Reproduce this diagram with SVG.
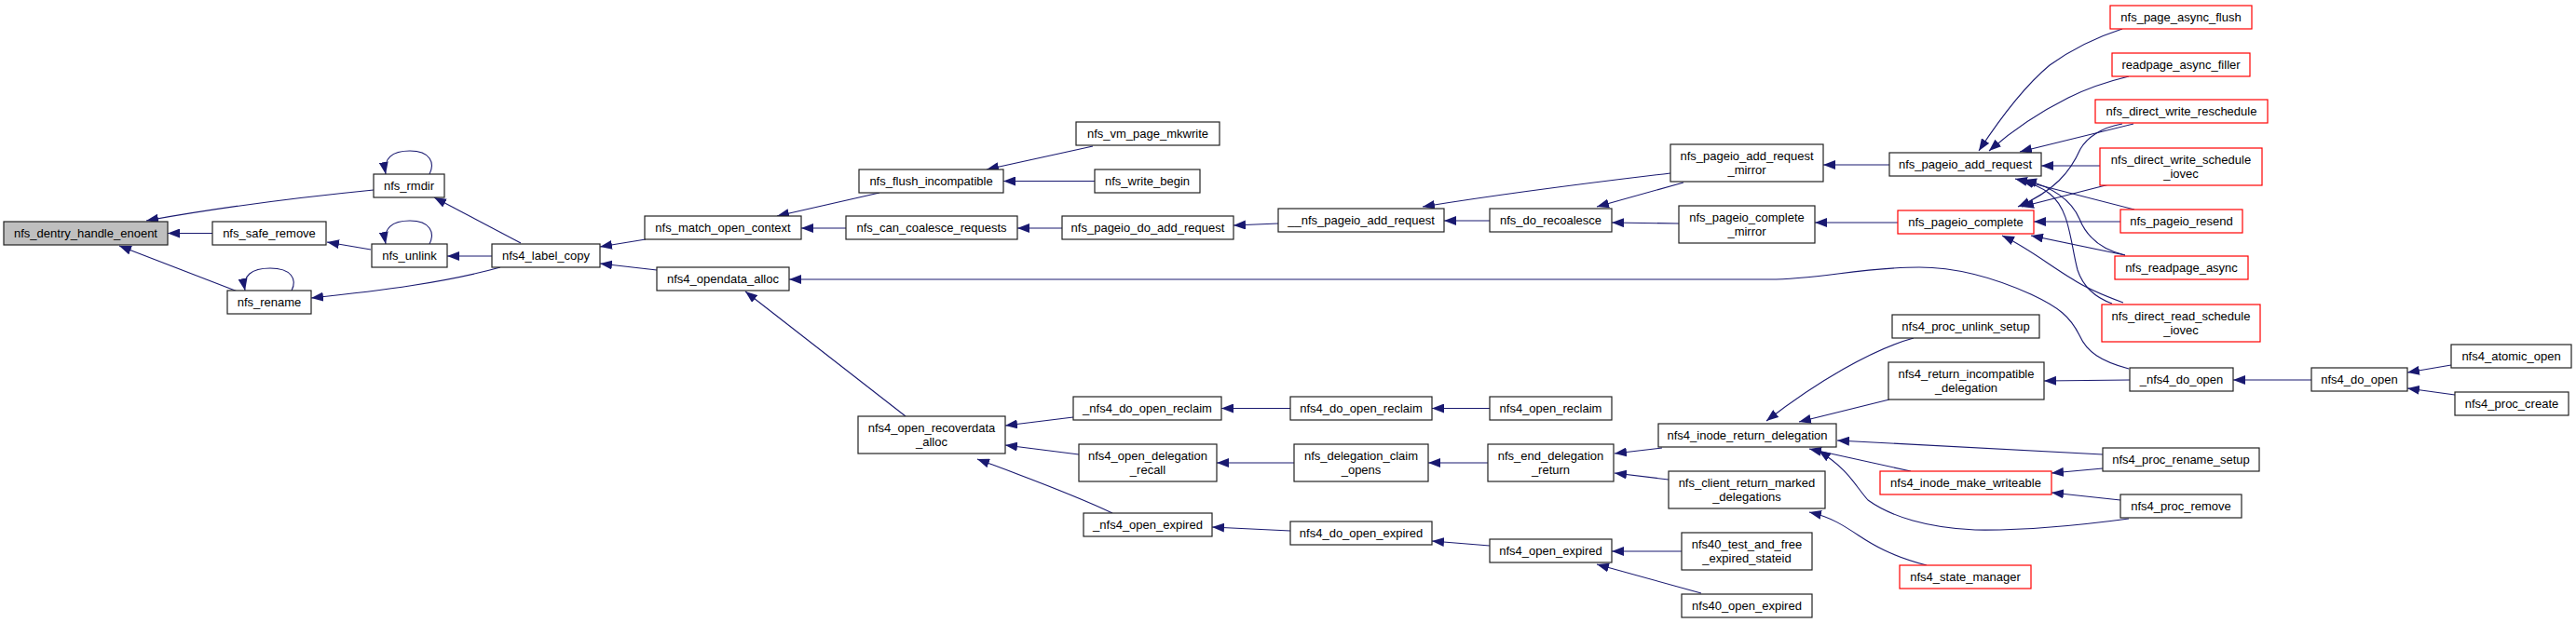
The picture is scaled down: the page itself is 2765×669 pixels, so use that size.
<svg xmlns="http://www.w3.org/2000/svg" width="2765" height="669" viewBox="0 0 2765 669">
<defs>
<marker id="arr" markerUnits="userSpaceOnUse" markerWidth="13" markerHeight="10" viewBox="0 0 13 10" refX="13" refY="5" orient="auto">
<path d="M0,0 L13,5 L0,10 z" fill="#191970"/>
</marker>
</defs>
<style>
.node rect{fill:#ffffff;stroke:#222222;stroke-width:1.2}
.node.red rect{stroke:#ff0000}
.node.root rect{fill:#bfbfbf}
text{font-family:"Liberation Sans",Arial,Helvetica,sans-serif;font-size:13px;text-anchor:middle;fill:#000000}
.edges path{fill:none;stroke:#191970;stroke-width:1.1;marker-end:url(#arr)}
</style>
<rect x="0" y="0" width="2765" height="669" fill="#ffffff"/>
<g class="edges" id="edges">
<path d="M401,204 C330,211 240,222 157,237"/>
<path d="M228,250.5 L180,250.5"/>
<path d="M255,313 L128,264"/>
<path d="M461,187 C467,175 462,162 440,162 C421,162 411,170 414,187"/>
<path d="M398,268 L351,260"/>
<path d="M461,262 C467,250 462,237 440,237 C421,237 411,245 414,262"/>
<path d="M528,275 L480,275"/>
<path d="M559,261 L466,212"/>
<path d="M537,287 C480,303 410,312 334,320"/>
<path d="M313,312 C319,300 313,288 290,288 C270,288 260,296 263,312"/>
<path d="M693,257 L644,265"/>
<path d="M705,290 L644,283"/>
<path d="M944,207 L834,232"/>
<path d="M908,245 L860,245"/>
<path d="M1173,157 L1059,182"/>
<path d="M1175,194.5 L1077,194.5"/>
<path d="M1140,245 L1092,245"/>
<path d="M1372,240 L1324,242"/>
<path d="M2285,396 C2255,388 2240,378 2232,360 C2222,340 2210,330 2180,316 C2140,298 2100,287 2060,287 C2000,287 1950,300 1900,300 L847,300"/>
<path d="M2481,408 L2397,408"/>
<path d="M2631,392 L2584,400"/>
<path d="M2635,424 L2584,417"/>
<path d="M972,447 L800,313"/>
<path d="M1599,237 L1550,237"/>
<path d="M1793,186 C1700,197 1620,207 1527,222"/>
<path d="M1807,196 L1714,222"/>
<path d="M1802,240 L1730,239"/>
<path d="M2028,177 L1957,177"/>
<path d="M2037,239 L1948,239"/>
<path d="M2278,31 C2250,40 2225,52 2200,70 C2170,95 2145,130 2124,162"/>
<path d="M2285,82 C2260,88 2240,95 2220,105 C2190,120 2160,140 2135,162"/>
<path d="M2290,133 L2168,163"/>
<path d="M2254,178 L2191,178"/>
<path d="M2291,225 L2170,194"/>
<path d="M2281,274 C2255,268 2240,255 2232,235 C2222,212 2200,200 2173,193"/>
<path d="M2267,326 C2245,318 2235,305 2230,290 C2222,260 2222,225 2200,208 C2190,200 2180,196 2163,192"/>
<path d="M2278,133 C2255,137 2240,148 2233,160 C2222,185 2205,205 2166,222"/>
<path d="M2264,198 L2170,222"/>
<path d="M2276,238 L2183,238"/>
<path d="M2281,274 L2180,253"/>
<path d="M2279,325 C2260,318 2240,310 2225,300 C2200,285 2175,265 2149,253"/>
<path d="M1152,448 L1079,457"/>
<path d="M1158,488 L1079,478"/>
<path d="M1194,551 C1150,530 1100,512 1049,493"/>
<path d="M1385,438.5 L1311,438.5"/>
<path d="M1389,497 L1306,497"/>
<path d="M1385,570 L1301,566"/>
<path d="M1599,438.5 L1537,438.5"/>
<path d="M1597,497 L1533,497"/>
<path d="M1599,586 L1537,581"/>
<path d="M1784,481 L1733,487"/>
<path d="M1791,515 L1733,508"/>
<path d="M1805,592 L1730,592"/>
<path d="M1826,637 L1714,606"/>
<path d="M2054,363 C2010,375 1950,410 1896,452"/>
<path d="M2028,429 L1931,453"/>
<path d="M2257,488 L1972,473"/>
<path d="M2051,506 L1942,482"/>
<path d="M2285,557 C2240,563 2180,570 2120,569 C2070,567 2030,555 2005,537 C1990,520 1985,505 1952,484"/>
<path d="M2068,607 C2030,597 2010,585 1995,575 C1980,565 1965,555 1942,550"/>
<path d="M2257,503 L2202,508"/>
<path d="M2276,537 L2202,529"/>
<path d="M2286,408 L2194,409"/>
</g>
<g class="node root" id="n1"><rect x="4" y="238" width="176" height="25"/><text x="92" y="255">nfs_dentry_handle_enoent</text></g>
<g class="node" id="n2"><rect x="401" y="187" width="76" height="25"/><text x="439" y="204">nfs_rmdir</text></g>
<g class="node" id="n3"><rect x="228" y="238" width="122" height="25"/><text x="289" y="255">nfs_safe_remove</text></g>
<g class="node" id="n4"><rect x="399" y="262" width="81" height="25"/><text x="439.5" y="279">nfs_unlink</text></g>
<g class="node" id="n5"><rect x="244" y="312" width="90" height="25"/><text x="289" y="329">nfs_rename</text></g>
<g class="node" id="n6"><rect x="528" y="262" width="116" height="25"/><text x="586" y="279">nfs4_label_copy</text></g>
<g class="node" id="n7"><rect x="692" y="232" width="168" height="25"/><text x="776" y="249">nfs_match_open_context</text></g>
<g class="node" id="n8"><rect x="705" y="287" width="142" height="25"/><text x="776" y="304">nfs4_opendata_alloc</text></g>
<g class="node" id="n9"><rect x="922" y="182" width="155" height="25"/><text x="999.5" y="199">nfs_flush_incompatible</text></g>
<g class="node" id="n10"><rect x="1155" y="131" width="154" height="25"/><text x="1232" y="148">nfs_vm_page_mkwrite</text></g>
<g class="node" id="n11"><rect x="1175" y="182" width="113" height="25"/><text x="1231.5" y="199">nfs_write_begin</text></g>
<g class="node" id="n12"><rect x="908" y="232" width="184" height="25"/><text x="1000" y="249">nfs_can_coalesce_requests</text></g>
<g class="node" id="n13"><rect x="1140" y="232" width="184" height="25"/><text x="1232" y="249">nfs_pageio_do_add_request</text></g>
<g class="node" id="n14"><rect x="1372" y="224" width="178" height="25"/><text x="1461" y="241">__nfs_pageio_add_request</text></g>
<g class="node" id="n15"><rect x="1599" y="224" width="131" height="25"/><text x="1664.5" y="241">nfs_do_recoalesce</text></g>
<g class="node" id="n16"><rect x="1793" y="155" width="164" height="40"/><text x="1875" y="172">nfs_pageio_add_request</text><text x="1875" y="187">_mirror</text></g>
<g class="node" id="n17"><rect x="1802" y="221" width="146" height="40"/><text x="1875" y="238">nfs_pageio_complete</text><text x="1875" y="253">_mirror</text></g>
<g class="node" id="n18"><rect x="2028" y="164" width="163" height="25"/><text x="2109.5" y="181">nfs_pageio_add_request</text></g>
<g class="node red" id="n19"><rect x="2037" y="226" width="146" height="25"/><text x="2110" y="243">nfs_pageio_complete</text></g>
<g class="node red" id="n20"><rect x="2265" y="6" width="152" height="25"/><text x="2341" y="23">nfs_page_async_flush</text></g>
<g class="node red" id="n21"><rect x="2267" y="57" width="148" height="25"/><text x="2341" y="74">readpage_async_filler</text></g>
<g class="node red" id="n22"><rect x="2249" y="107" width="185" height="25"/><text x="2341.5" y="124">nfs_direct_write_reschedule</text></g>
<g class="node red" id="n23"><rect x="2254" y="159" width="174" height="40"/><text x="2341" y="176">nfs_direct_write_schedule</text><text x="2341" y="191">_iovec</text></g>
<g class="node red" id="n24"><rect x="2276" y="225" width="131" height="25"/><text x="2341.5" y="242">nfs_pageio_resend</text></g>
<g class="node red" id="n25"><rect x="2270" y="275" width="143" height="25"/><text x="2341.5" y="292">nfs_readpage_async</text></g>
<g class="node red" id="n26"><rect x="2256" y="327" width="170" height="40"/><text x="2341" y="344">nfs_direct_read_schedule</text><text x="2341" y="359">_iovec</text></g>
<g class="node" id="n27"><rect x="2286" y="395" width="111" height="25"/><text x="2341.5" y="412">_nfs4_do_open</text></g>
<g class="node" id="n28"><rect x="2481" y="395" width="103" height="25"/><text x="2532.5" y="412">nfs4_do_open</text></g>
<g class="node" id="n29"><rect x="2631" y="370" width="129" height="25"/><text x="2695.5" y="387">nfs4_atomic_open</text></g>
<g class="node" id="n30"><rect x="2635" y="421" width="122" height="25"/><text x="2696" y="438">nfs4_proc_create</text></g>
<g class="node" id="n31"><rect x="921" y="447" width="158" height="40"/><text x="1000" y="464">nfs4_open_recoverdata</text><text x="1000" y="479">_alloc</text></g>
<g class="node" id="n32"><rect x="1152" y="426" width="159" height="25"/><text x="1231.5" y="443">_nfs4_do_open_reclaim</text></g>
<g class="node" id="n33"><rect x="1158" y="477" width="148" height="40"/><text x="1232" y="494">nfs4_open_delegation</text><text x="1232" y="509">_recall</text></g>
<g class="node" id="n34"><rect x="1163" y="551" width="138" height="25"/><text x="1232" y="568">_nfs4_open_expired</text></g>
<g class="node" id="n35"><rect x="1385" y="426" width="152" height="25"/><text x="1461" y="443">nfs4_do_open_reclaim</text></g>
<g class="node" id="n36"><rect x="1389" y="477" width="144" height="40"/><text x="1461" y="494">nfs_delegation_claim</text><text x="1461" y="509">_opens</text></g>
<g class="node" id="n37"><rect x="1385" y="560" width="152" height="25"/><text x="1461" y="577">nfs4_do_open_expired</text></g>
<g class="node" id="n38"><rect x="1599" y="426" width="131" height="25"/><text x="1664.5" y="443">nfs4_open_reclaim</text></g>
<g class="node" id="n39"><rect x="1597" y="477" width="135" height="40"/><text x="1664.5" y="494">nfs_end_delegation</text><text x="1664.5" y="509">_return</text></g>
<g class="node" id="n40"><rect x="1599" y="579" width="131" height="25"/><text x="1664.5" y="596">nfs4_open_expired</text></g>
<g class="node" id="n41"><rect x="1780" y="455" width="191" height="25"/><text x="1875.5" y="472">nfs4_inode_return_delegation</text></g>
<g class="node" id="n42"><rect x="1791" y="506" width="168" height="40"/><text x="1875" y="523">nfs_client_return_marked</text><text x="1875" y="538">_delegations</text></g>
<g class="node" id="n43"><rect x="1805" y="572" width="140" height="40"/><text x="1875" y="589">nfs40_test_and_free</text><text x="1875" y="604">_expired_stateid</text></g>
<g class="node" id="n44"><rect x="1805" y="638" width="140" height="25"/><text x="1875" y="655">nfs40_open_expired</text></g>
<g class="node" id="n45"><rect x="2031" y="338" width="158" height="25"/><text x="2110" y="355">nfs4_proc_unlink_setup</text></g>
<g class="node" id="n46"><rect x="2027" y="389" width="167" height="40"/><text x="2110.5" y="406">nfs4_return_incompatible</text><text x="2110.5" y="421">_delegation</text></g>
<g class="node red" id="n47"><rect x="2018" y="506" width="184" height="25"/><text x="2110" y="523">nfs4_inode_make_writeable</text></g>
<g class="node red" id="n48"><rect x="2039" y="607" width="141" height="25"/><text x="2109.5" y="624">nfs4_state_manager</text></g>
<g class="node" id="n49"><rect x="2257" y="481" width="168" height="25"/><text x="2341" y="498">nfs4_proc_rename_setup</text></g>
<g class="node" id="n50"><rect x="2276" y="531" width="130" height="25"/><text x="2341" y="548">nfs4_proc_remove</text></g>
</svg>
